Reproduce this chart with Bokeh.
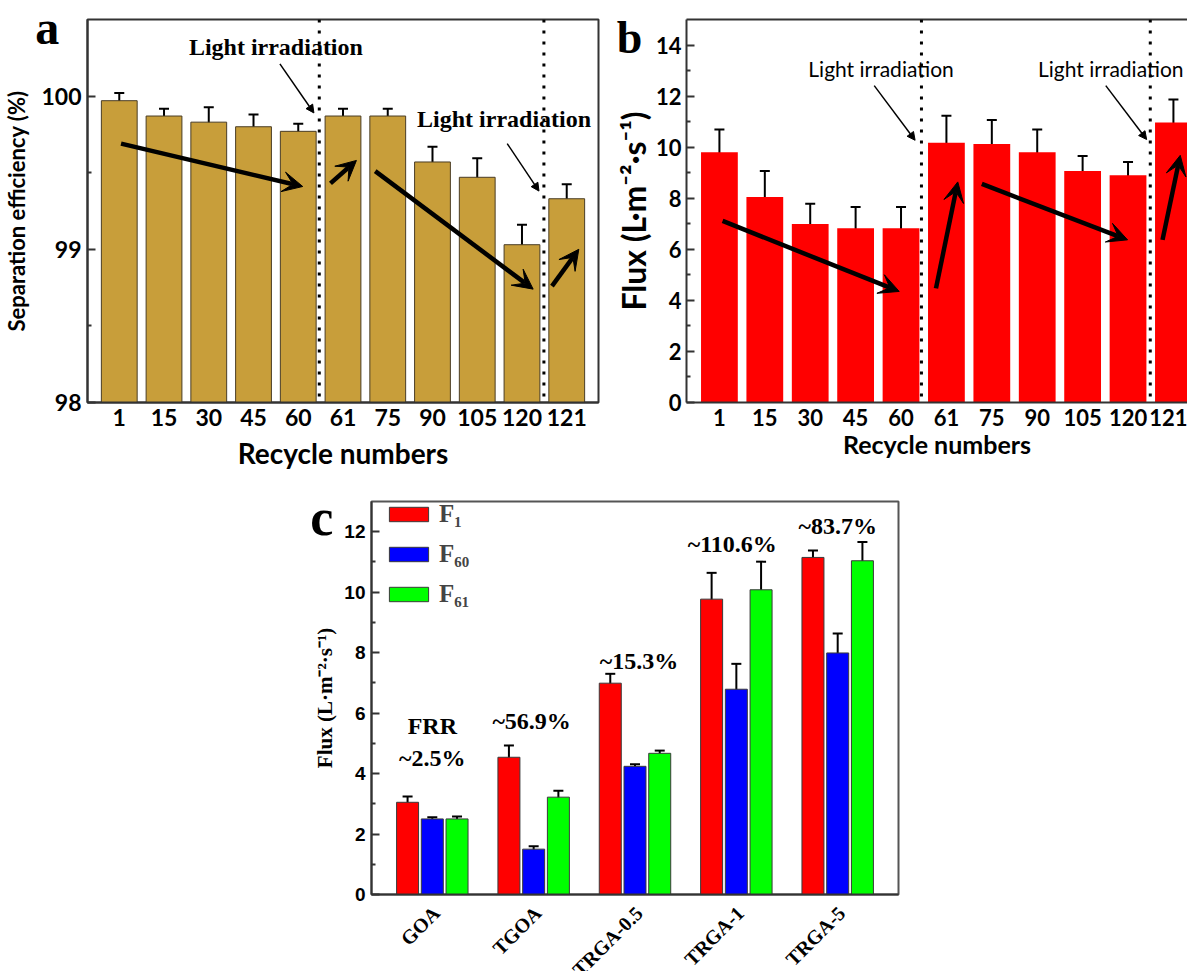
import numpy as np
from bokeh.plotting import figure
from bokeh.models import (ColumnDataSource, Whisker, TeeHead, Span, Arrow, VeeHead, NormalHead,
                          FixedTicker, Range1d, Legend, LegendItem, LinearAxis, Spacer)
from bokeh.layouts import row, column
from bokeh.embed import file_html
from bokeh.resources import INLINE
from bokeh.core.properties import value

# ---------------- data ----------------
recycle_labels = ["1", "15", "30", "45", "60", "61", "75", "90", "105", "120", "121"]
sep_eff = [99.97, 99.87, 99.83, 99.80, 99.77, 99.87, 99.87, 99.57, 99.47, 99.03, 99.33]
sep_err = [0.05, 0.047, 0.097, 0.08, 0.05, 0.047, 0.047, 0.10, 0.125, 0.13, 0.095]
flux_b = [9.80, 8.05, 6.99, 6.82, 6.82, 10.17, 10.12, 9.80, 9.07, 8.90, 10.97]
flux_b_err = [0.89, 1.02, 0.79, 0.84, 0.84, 1.06, 0.94, 0.89, 0.58, 0.52, 0.90]

membranes = ["GOA", "TGOA", "TRGA-0.5", "TRGA-1", "TRGA-5"]
F1 = [3.05, 4.54, 6.99, 9.77, 11.15]
F1_err = [0.19, 0.39, 0.31, 0.87, 0.23]
F60 = [2.50, 1.50, 4.24, 6.79, 7.99]
F60_err = [0.055, 0.10, 0.07, 0.84, 0.64]
F61 = [2.50, 3.22, 4.67, 10.08, 11.04]
F61_err = [0.08, 0.21, 0.09, 0.93, 0.62]
frr_text = ["~2.5%", "~56.9%", "~15.3%", "~110.6%", "~83.7%"]

# annotation positions (data coordinates)
light_a = dict(x=[3.50, 8.60], y=[100.32, 99.85])
light_b = dict(x=[3.56, 8.62], y=[13.1, 13.1])
div_a = [4.47, 9.49]
div_b = [4.45, 9.49]
thick_a = dict(x0=[0.04, 4.72, 5.72, 9.67], y0=[99.69, 99.43, 99.51, 98.76],
               x1=[4.10, 5.30, 9.25, 10.27], y1=[99.41, 99.58, 98.74, 99.00])
thin_a = dict(x0=[3.59, 8.67], y0=[100.21, 99.69], x1=[4.35, 9.38], y1=[99.89, 99.38])
thick_b = dict(x0=[0.07, 4.77, 5.78, 9.76], y0=[7.11, 4.47, 8.56, 6.37],
               x1=[3.96, 5.25, 8.99, 10.15], y1=[4.35, 8.64, 6.37, 9.68])
thin_b = dict(x0=[3.41, 8.51], y0=[12.41, 12.41], x1=[4.31, 9.41], y1=[10.27, 10.30])
frr_x = [0.0, 0.98, 2.04, 2.96, 4.0]
frr_y = [4.5, 5.75, 7.74, 11.6, 12.2]

SANS = "Lato"
SERIF = "Liberation Serif"
AXC = "#333333"


def style_axes(p, font, tick_size, label_size):
    for ax in p.axis:
        ax.axis_line_width = 2
        ax.axis_line_color = AXC
        ax.major_label_text_font = font
        ax.major_label_text_font_style = "bold"
        ax.major_label_text_font_size = tick_size
        ax.major_label_text_color = "black"
        ax.axis_label_text_font = font
        ax.axis_label_text_font_style = "bold"
        ax.axis_label_text_font_size = label_size
        ax.axis_label_text_color = "black"
    p.xaxis.major_tick_line_color = None
    p.xaxis.minor_tick_line_color = None
    p.yaxis.major_tick_in = 8
    p.yaxis.major_tick_out = 0
    p.yaxis.minor_tick_in = 4
    p.yaxis.minor_tick_out = 0
    p.yaxis.major_tick_line_width = 2
    p.yaxis.minor_tick_line_width = 2
    p.yaxis.major_tick_line_color = AXC
    p.yaxis.minor_tick_line_color = AXC
    p.xgrid.visible = False
    p.ygrid.visible = False


def add_arrows(p, d, thick):
    src = ColumnDataSource(d)
    if thick:
        head = VeeHead(size=20, fill_color="black", line_color="black", line_width=1)
        lw = 4.5
    else:
        head = NormalHead(size=8, fill_color="black", line_color="black", line_width=1)
        lw = 1.5
    p.add_layout(Arrow(end=head, source=src, x_start="x0", y_start="y0", x_end="x1", y_end="y1",
                       line_width=lw, line_color="black"))


def panel_letter(p, txt, x, y, size):
    # overlay-level text glyph is drawn without clipping to the frame
    p.text(x=[x], y=[y], text=[txt], text_font=value(SERIF), text_font_style="bold",
           text_font_size=size, text_align="center", text_baseline="alphabetic", level="overlay")


idx = np.arange(len(recycle_labels))

# ---------------- panel a ----------------
pa = figure(width=610, height=483, x_range=Range1d(-0.71, 10.71), y_range=Range1d(98, 100.5),
            output_backend="svg", toolbar_location=None,
            min_border_left=85, min_border_right=12, min_border_top=19, min_border_bottom=81)
pa.outline_line_color = AXC
pa.outline_line_width = 2
pa.outline_line_alpha = 1
src_a = ColumnDataSource(dict(x=idx, top=sep_eff,
                              upper=np.array(sep_eff) + np.array(sep_err),
                              lower=np.array(sep_eff) - np.array(sep_err)))
pa.vbar(x="x", top="top", bottom=98, width=0.8, source=src_a, fill_color="#C89E3A",
        line_color="#4a3d25", line_width=1)
pa.add_layout(Whisker(source=src_a, base="x", upper="upper", lower="lower", line_width=2,
                      upper_head=TeeHead(size=10, line_width=2), lower_head=TeeHead(size=10, line_width=2)))
for loc in div_a:
    pa.add_layout(Span(location=loc, dimension="height", line_dash="3 8", line_width=3, line_color="black"))
add_arrows(pa, thick_a, True)
add_arrows(pa, thin_a, False)
pa.text(x=light_a["x"], y=light_a["y"], text=["Light irradiation"] * 2, text_font=value(SERIF),
        text_font_style="bold", text_font_size="24px", text_align="center", text_baseline="middle")
pa.xaxis.ticker = FixedTicker(ticks=list(idx))
pa.xaxis.major_label_overrides = {int(i): s for i, s in zip(idx, recycle_labels)}
pa.yaxis.ticker = FixedTicker(ticks=[98, 99, 100], minor_ticks=[98.5, 99.5])
pa.yaxis.axis_label = "Separation efficiency (%)"
pa.xaxis.axis_label = "Recycle numbers"
style_axes(pa, SANS, "23px", "22px")
pa.xaxis.axis_label_text_font_size = "28px"
pa.yaxis.major_label_standoff = 6
pa.xaxis.major_label_standoff = 0
pa.yaxis.axis_label_standoff = 8
pa.xaxis.axis_label_standoff = 7
panel_letter(pa, "a", -1.61, 100.45, "48px")

# ---------------- panel b ----------------
pb = figure(width=577, height=483, x_range=Range1d(-0.725, 10.31), y_range=Range1d(0, 15),
            output_backend="svg", toolbar_location=None,
            min_border_left=75, min_border_right=0, min_border_top=16, min_border_bottom=81)
pb.outline_line_color = None
top_ax = LinearAxis(ticker=FixedTicker(ticks=[]), major_tick_line_color=None, minor_tick_line_color=None,
                    major_label_standoff=0, axis_line_width=2, axis_line_color=AXC)
src_b = ColumnDataSource(dict(x=idx, top=flux_b,
                              upper=np.array(flux_b) + np.array(flux_b_err),
                              lower=np.array(flux_b) - np.array(flux_b_err)))
pb.vbar(x="x", top="top", bottom=0, width=0.81, source=src_b, fill_color="#FF0000", line_color=None)
pb.add_layout(Whisker(source=src_b, base="x", upper="upper", lower="lower", line_width=2,
                      upper_head=TeeHead(size=10, line_width=2), lower_head=TeeHead(size=10, line_width=2)))
for loc in div_b:
    pb.add_layout(Span(location=loc, dimension="height", line_dash="3 8", line_width=3, line_color="black"))
add_arrows(pb, thick_b, True)
add_arrows(pb, thin_b, False)
pb.text(x=light_b["x"], y=light_b["y"], text=["Light irradiation"] * 2, text_font=value(SANS),
        text_font_size="21px", text_align="center", text_baseline="middle")
pb.xaxis.ticker = FixedTicker(ticks=list(idx))
pb.xaxis.major_label_overrides = {int(i): s for i, s in zip(idx, recycle_labels)}
pb.yaxis.ticker = FixedTicker(ticks=list(range(0, 15, 2)), minor_ticks=list(range(1, 15, 2)))
pb.yaxis.axis_label = "Flux (L·m⁻²·s⁻¹)"
pb.xaxis.axis_label = "Recycle numbers"
style_axes(pb, SANS, "22px", "32px")
pb.xaxis.axis_label_text_font_size = "25px"
pb.yaxis.major_label_standoff = 5
pb.xaxis.major_label_standoff = 0
pb.yaxis.axis_label_standoff = 0
pb.xaxis.axis_label_standoff = 0
pb.add_layout(top_ax, "above")
panel_letter(pb, "b", -1.98, 14.30, "46px")

# ---------------- panel c ----------------
pc = figure(width=610, height=488, x_range=Range1d(-0.6, 4.6), y_range=Range1d(0, 13),
            output_backend="svg", toolbar_location=None,
            min_border_left=71, min_border_right=12, min_border_top=18, min_border_bottom=77)
pc.outline_line_color = "#555555"
pc.outline_line_width = 2
pc.outline_line_alpha = 1
gidx = np.arange(len(membranes))
series = [(F1, F1_err, "#FF0000", "F₁", -0.244), (F60, F60_err, "#0000FF", "F₆₀", 0.0),
          (F61, F61_err, "#00FF00", "F₆₁", 0.244)]
items = []
for vals, errs, col, lab, off in series:
    v = np.array(vals)
    e = np.array(errs)
    s = ColumnDataSource(dict(x=gidx + off, top=v, upper=v + e, lower=v - e))
    r = pc.vbar(x="x", top="top", bottom=0, width=0.217, source=s, fill_color=col,
                line_color="#3a3a3a", line_width=1)
    pc.add_layout(Whisker(source=s, base="x", upper="upper", lower="lower", line_width=2,
                          upper_head=TeeHead(size=10, line_width=2), lower_head=TeeHead(size=10, line_width=2)))
    items.append(LegendItem(label=lab, renderers=[r]))
leg = Legend(items=items, location=(13, 285), glyph_width=49, glyph_height=18, label_height=30,
             spacing=10, padding=0, margin=0, border_line_color=None, background_fill_alpha=0,
             label_text_font=SERIF, label_text_font_style="bold", label_text_font_size="25px",
             label_standoff=6)
pc.add_layout(leg)
pc.text(x=frr_x, y=frr_y, text=frr_text, text_font=value(SERIF), text_font_style="bold",
        text_font_size="24px", text_align="center", text_baseline="middle")
pc.text(x=[frr_x[0]], y=[5.59], text=["FRR"], text_font=value(SERIF), text_font_style="bold",
        text_font_size="24px", text_align="center", text_baseline="middle")
# category labels, rotated 45 degrees, drawn below the axis
pc.text(x=gidx + 0.04, y=np.full(len(membranes), -0.5), text=membranes, text_font=value(SERIF),
        text_font_style="bold", text_font_size="20px", text_align="right", text_baseline="middle",
        angle=np.pi / 4, level="overlay")
pc.xaxis.ticker = FixedTicker(ticks=[])
pc.yaxis.ticker = FixedTicker(ticks=list(range(0, 13, 2)), minor_ticks=list(range(1, 13, 2)))
pc.yaxis.axis_label = "Flux (L·m⁻²·s⁻¹)"
style_axes(pc, "Liberation Sans", "19px", "21px")
pc.yaxis.axis_label_text_font = SERIF
pc.yaxis.major_label_standoff = 6
pc.yaxis.axis_label_standoff = 4
panel_letter(pc, "c", -1.09, 12.48, "52px")

layout = column(row(pa, pb), row(Spacer(width=300, height=488), pc))
open("out.html", "w").write(file_html(layout, INLINE))
